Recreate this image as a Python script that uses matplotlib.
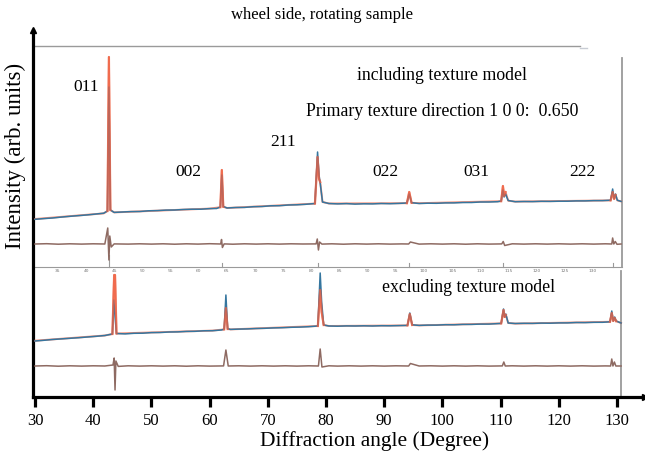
import matplotlib
matplotlib.use("Agg")
import matplotlib.pyplot as plt
import numpy as np

plt.rcParams['font.family'] = ['Liberation Serif', 'DejaVu Serif']

# ---------------- data (2theta in degrees, intensity in arb. units) ----------------
# Upper pattern: including texture model
top_obs_x = [30.0, 31.5, 33.0, 34.5, 36.0, 37.5, 39.0, 40.5, 41.8, 42.45, 42.7, 42.95, 43.6,
             45.0, 46.5, 48.0, 49.5, 51.0, 52.5, 54.0, 55.5, 57.0, 58.5, 60.0, 61.2, 61.85,
             62.1, 62.35, 63.0, 64.5, 66.0, 67.5, 69.0, 70.5, 72.0, 73.5, 75.0, 76.5, 78.1,
             78.55, 78.8, 79.0, 79.4, 80.5, 82.0, 83.5, 85.0, 86.5, 88.0, 89.5, 91.0, 92.5,
             93.9, 94.3, 94.7, 96.0, 97.5, 99.0, 100.5, 102.0, 103.5, 105.0, 106.5, 108.0,
             109.5, 110.1, 110.4, 110.6, 110.85, 111.3, 112.5, 114.0, 115.5, 117.0, 118.5,
             120.0, 121.5, 123.0, 124.5, 126.0, 127.5, 128.9, 129.25, 129.5, 129.75, 130.05, 130.7]
top_obs_y = [177.7, 178.4, 179.0, 179.9, 180.7, 181.4, 182.1, 183.0, 183.8, 186.0, 310.0, 187.0, 184.6,
             185.0, 185.4, 185.5, 186.2, 186.4, 186.9, 187.0, 187.5, 187.8, 187.8, 188.4, 188.5, 190.0,
             222.0, 190.5, 189.0, 189.5, 189.6, 190.3, 190.5, 191.2, 191.3, 192.0, 192.2, 192.7, 193.5,
             245.0, 222.0, 214.0, 195.0, 193.5, 193.1, 193.4, 192.9, 193.2, 193.1, 193.5, 193.3, 193.6,
             194.0, 203.0, 194.3, 193.5, 193.8, 193.7, 194.1, 194.1, 194.5, 194.5, 195.0, 195.0,
             195.3, 196.0, 207.0, 200.0, 203.0, 196.5, 195.3, 195.5, 195.4, 195.7, 195.6,
             195.8, 195.8, 196.1, 196.1, 196.4, 196.4, 196.8, 208.0, 198.5, 203.0, 196.8, 195.6]
top_calc_x = [30.0, 41.8, 42.45, 42.7, 42.95, 43.6, 60.0, 61.85, 62.1, 62.35, 63.0, 78.1,
              78.55, 78.8, 79.0, 79.4, 80.5, 93.9, 94.3, 94.7, 96.0, 110.1, 110.4, 110.6,
              110.85, 111.3, 112.5, 128.9, 129.25, 129.5, 129.75, 130.05, 130.7]
top_calc_y = [178.0, 183.6, 186.0, 340.0, 187.0, 184.6, 188.4, 189.8, 227.0, 190.2, 189.0, 193.4,
              240.0, 218.0, 215.0, 195.0, 193.5, 193.8, 205.0, 194.2, 193.8, 195.8, 211.0, 201.0,
              205.0, 196.3, 195.4, 196.6, 205.0, 198.0, 202.0, 196.6, 195.6]
top_diff_x = [30.0, 32.0, 34.0, 36.0, 38.0, 40.0, 42.0, 42.5, 42.7, 42.85, 43.1, 43.6, 46.0,
              48.0, 50.0, 52.0, 54.0, 56.0, 58.0, 60.0, 61.9, 62.05, 62.2, 62.5, 64.0, 66.0,
              68.0, 70.0, 72.0, 74.0, 76.0, 78.3, 78.5, 78.7, 78.9, 79.3, 81.0, 83.0, 85.0,
              87.0, 89.0, 91.0, 93.0, 94.2, 94.5, 96.0, 98.0, 100.0, 102.0, 104.0, 106.0,
              108.0, 110.2, 110.45, 110.7, 112.0, 114.0, 116.0, 118.0, 120.0, 122.0, 124.0,
              126.0, 128.0, 129.1, 129.25, 129.45, 129.7, 130.0, 130.7]
top_diff_y = [153.0, 153.3, 152.8, 153.2, 152.9, 153.2, 153.0, 169.0, 137.0, 161.0, 150.0, 153.1, 152.9,
              153.2, 152.9, 153.2, 152.8, 153.2, 152.9, 153.3, 153.0, 157.5, 149.5, 153.1, 152.8, 153.2,
              152.9, 153.2, 152.9, 153.2, 153.0, 153.1, 158.0, 147.0, 155.0, 152.9, 153.2, 152.8, 153.2,
              152.9, 153.2, 152.9, 153.1, 153.0, 155.0, 152.9, 153.2, 152.9, 153.2, 152.8, 153.2,
              152.9, 153.1, 155.5, 151.5, 153.2, 152.9, 153.2, 152.9, 153.2, 152.9, 153.2,
              152.9, 153.2, 153.0, 159.0, 153.0, 155.5, 152.7, 153.0]

# Lower pattern: excluding texture model
bot_obs_x = [30.0, 31.5, 33.0, 34.5, 36.0, 37.5, 39.0, 40.5, 42.0, 43.3, 43.55, 43.75, 44.0,
             45.5, 47.0, 48.5, 50.0, 51.5, 53.0, 54.5, 56.0, 57.5, 59.0, 60.5, 62.0, 62.5,
             62.8, 63.1, 63.6, 65.0, 66.5, 68.0, 69.5, 71.0, 72.5, 74.0, 75.5, 77.0, 78.6,
             79.0, 79.25, 79.6, 80.5, 82.0, 83.5, 85.0, 86.5, 88.0, 89.5, 91.0, 92.5, 94.0,
             94.4, 94.8, 96.0, 97.5, 99.0, 100.5, 102.0, 103.5, 105.0, 106.5, 108.0, 110.1,
             110.5, 110.7, 110.9, 111.3, 112.5, 114.0, 115.5, 117.0, 118.5, 120.0, 121.5,
             123.0, 124.5, 126.0, 127.5, 128.8, 129.1, 129.35, 129.6, 129.85, 130.7]
bot_obs_y = [56.0, 56.7, 57.5, 58.1, 58.7, 59.3, 60.0, 60.7, 61.5, 63.0, 97.0, 80.0, 63.5,
             63.1, 63.7, 63.8, 64.4, 64.5, 65.0, 65.1, 65.6, 65.7, 66.2, 66.3, 67.0, 67.8,
             102.0, 68.3, 67.6, 67.9, 68.1, 68.5, 68.7, 69.1, 69.3, 69.7, 69.9, 70.3, 71.0,
             124.0, 95.0, 72.0, 71.0, 70.8, 71.1, 71.0, 71.2, 71.0, 71.3, 71.2, 71.4, 71.6,
             84.0, 72.2, 71.6, 71.9, 71.9, 72.3, 72.2, 72.6, 72.6, 72.9, 72.9, 73.6,
             88.0, 80.0, 83.0, 74.0, 73.5, 73.7, 73.6, 73.9, 73.8, 74.1, 74.1,
             74.5, 74.4, 74.7, 74.7, 75.2, 86.0, 76.0, 80.0, 76.0, 74.0]
bot_calc_x = [30.0, 42.0, 43.3, 43.6, 43.75, 44.0, 60.5, 62.5, 62.8, 63.1, 63.6, 78.6, 79.0,
              79.25, 79.6, 80.5, 94.0, 94.4, 94.8, 96.0, 110.1, 110.5, 110.7, 110.9, 111.3,
              112.5, 128.8, 129.1, 129.35, 129.6, 129.85, 130.7]
bot_calc_y = [56.3, 61.5, 63.0, 122.0, 122.0, 63.5, 66.4, 67.6, 89.0, 68.0, 67.6, 71.0, 107.0,
              85.0, 72.0, 71.0, 71.6, 83.0, 72.0, 71.6, 73.6, 87.0, 80.0, 82.0, 74.0,
              73.4, 75.2, 84.0, 76.0, 79.0, 75.8, 74.0]
bot_diff_x = [30.0, 32.0, 34.0, 36.0, 38.0, 40.0, 42.0, 43.4, 43.6, 43.75, 43.9, 44.3, 46.0,
              48.0, 50.0, 52.0, 54.0, 56.0, 58.0, 60.0, 62.4, 62.8, 63.2, 65.0, 67.0, 69.0,
              71.0, 73.0, 75.0, 77.0, 78.7, 79.0, 79.3, 80.5, 82.0, 84.0, 86.0, 88.0, 90.0,
              92.0, 94.2, 94.5, 96.0, 98.0, 100.0, 102.0, 104.0, 106.0, 108.0, 110.3, 110.55,
              110.8, 112.0, 114.0, 116.0, 118.0, 120.0, 122.0, 124.0, 126.0, 128.0, 128.9,
              129.1, 129.3, 129.55, 129.8, 130.7]
bot_diff_y = [31.0, 31.3, 30.8, 31.2, 30.9, 31.2, 31.0, 32.0, 39.0, 7.0, 36.0, 30.6, 31.2,
              30.9, 31.2, 30.9, 31.2, 30.8, 31.2, 30.9, 31.1, 47.0, 31.0, 31.2, 30.9, 31.2,
              30.9, 31.2, 30.9, 31.2, 31.0, 48.0, 30.0, 31.2, 30.9, 31.2, 30.9, 31.2, 30.9,
              31.2, 31.0, 33.5, 31.0, 31.2, 30.9, 31.2, 30.9, 31.2, 30.9, 31.1, 35.0,
              31.0, 31.2, 30.9, 31.2, 30.9, 31.2, 30.9, 31.2, 30.9, 31.1, 31.0,
              38.0, 31.0, 35.0, 31.0, 31.0]

# reflection labels (hkl) and their peak positions
hkl_labels = ['011', '002', '211', '022', '031', '222']
hkl_pos_top = [42.7, 62.1, 78.55, 94.3, 110.4, 129.25]
hkl_pos_bot = [43.66, 62.8, 79.0, 94.4, 110.5, 129.1]

# tick labels of the embedded (upper) pattern's own axis
inner_ticks = [35, 40, 45, 50, 55, 60, 65, 70, 75, 80, 85, 90, 95, 100, 105, 110, 115, 120, 125, 130]
main_ticks = [30, 40, 50, 60, 70, 80, 90, 100, 110, 120, 130]

# ---------------- styling ----------------
OBS_C = '#35769f'
CALC_C = '#ef6040'
DIFF_C = '#8e6a62'
FRAME_C = '#9a9a9a'

fig = plt.figure(figsize=(6.45, 4.57), dpi=100)
W, H = 645.0, 457.0
ax = fig.add_axes([33 / W, 1 - 397 / H, 612 / W, 367 / H])
ax.set_xlim(29.656, 134.81)
ax.set_ylim(0, 367)


def near_peaks(xs, ys, peaks, win=0.75):
    xs = np.asarray(xs, float)
    ys = np.asarray(ys, float)
    m = np.zeros(xs.shape, bool)
    for p in peaks:
        m |= np.abs(xs - p) <= win
    return xs, np.where(m, ys, np.nan)


# patterns
for cx, cy, ox, oy, dx, dy, pk in [
        (top_calc_x, top_calc_y, top_obs_x, top_obs_y, top_diff_x, top_diff_y, hkl_pos_top),
        (bot_calc_x, bot_calc_y, bot_obs_x, bot_obs_y, bot_diff_x, bot_diff_y, hkl_pos_bot)]:
    ax.plot(cx, cy, color=CALC_C, lw=1.4, alpha=0.7, zorder=3)
    ax.plot(ox, oy, color=OBS_C, lw=1.1, zorder=4)
    px_, py_ = near_peaks(cx, cy, pk)
    ax.plot(px_, py_, color=CALC_C, lw=1.6, alpha=0.75, solid_joinstyle='round', zorder=5)
    ax.plot(dx, dy, color=DIFF_C, lw=1.1, zorder=3)

# embedded panel frames
ax.plot([29.9, 123.6], [351, 351], color=FRAME_C, lw=1.0, zorder=2)
ax.plot([123.6, 124.8], [349, 349], color='#c8ccd4', lw=1.0, zorder=2)
ax.plot([130.86, 130.86], [130, 339], color=FRAME_C, lw=1.3, zorder=2)
ax.plot([130.7, 130.7], [0, 126], color=FRAME_C, lw=1.3, zorder=2)
ax.plot([29.9, 130.86], [130, 130], color=FRAME_C, lw=0.8, zorder=2)

# reflection markers on the upper pattern's axis
for i, p in enumerate(hkl_pos_top):
    top = 142 if i == 0 else 134
    ax.plot([p, p], [130, top], color=FRAME_C, lw=0.8, zorder=2)

# inner axis tick labels (tiny, grey)
for v in inner_ticks:
    px = 58 + (v - 35) * (535 / 95.0)
    xd = 30 + (px - 35) / 5.82
    ax.text(xd, 126.5, str(v), fontsize=3.2, color='#777777', ha='center', va='center',
            family='DejaVu Sans', zorder=2)

# main axes styling
for s in ['top', 'right']:
    ax.spines[s].set_visible(False)
for s in ['left', 'bottom']:
    ax.spines[s].set_linewidth(2.3)
ax.set_yticks([])
ax.set_xticks(main_ticks)
ax.tick_params(axis='x', direction='out', length=7.5, width=2.3, labelsize=12, pad=4)
ax.plot(1, 0, '>', color='k', ms=5, transform=ax.transAxes, clip_on=False)
ax.plot(0, 1, '^', color='k', ms=5, transform=ax.transAxes, clip_on=False)

# text
def px2data(px, py):
    return 30 + (px - 35) / 5.82, 397 - py

label_px = [(86, 87), (188, 172), (283, 142), (385, 172), (476, 172), (582, 172)]
for lab, (px, py) in zip(hkl_labels, label_px):
    x, y = px2data(px, py)
    ax.text(x, y, lab, fontsize=12.5, ha='center', va='center', zorder=6)

x, y = px2data(442, 76)
ax.text(x, y, 'including texture model', fontsize=12.8, ha='center', va='center')
x, y = px2data(442, 111)
ax.text(x, y, 'Primary texture direction 1 0 0:  0.650', fontsize=12.8, ha='center', va='center')
x, y = px2data(469, 287)
ax.text(x, y, 'excluding texture model', fontsize=12.8, ha='center', va='center')

fig.text(322 / W, 1 - 15 / H, 'wheel side, rotating sample', fontsize=12, ha='center', va='center')
fig.text(15 / W, 1 - 156 / H, 'Intensity (arb. units)', fontsize=16.5, rotation=90,
         ha='center', va='center')
fig.text(375 / W, 1 - 441 / H, 'Diffraction angle (Degree)', fontsize=15.5, ha='center', va='center')

fig.savefig('out.png', dpi=100)
